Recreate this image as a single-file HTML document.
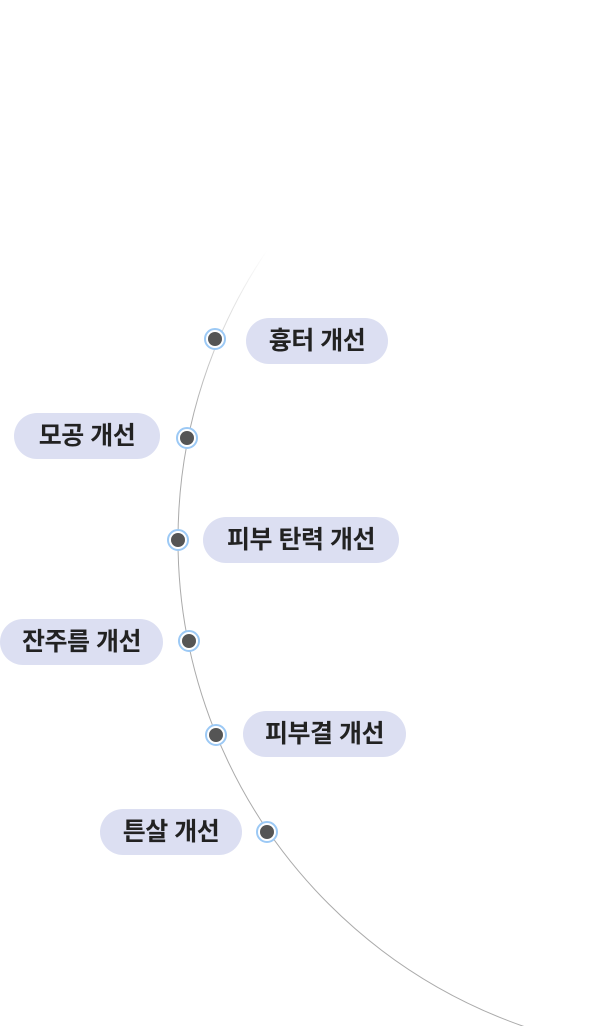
<!DOCTYPE html>
<html><head><meta charset="utf-8"><style>
html,body{margin:0;padding:0;background:#fff;}
body{width:613px;height:1026px;position:relative;overflow:hidden;font-family:"Liberation Sans","Noto Sans CJK KR",sans-serif;}
.p{position:absolute;height:46px;line-height:46px;border-radius:23px;background:#dcdff2;color:#222;font-size:25px;font-weight:700;text-align:center;letter-spacing:-0.5px;white-space:nowrap;}
.d{position:absolute;width:22px;height:22px;border-radius:50%;background:#fff;border:2px solid #9cc9f5;box-sizing:border-box;}
.d::after{content:"";position:absolute;left:2px;top:2px;width:14px;height:14px;border-radius:50%;background:#555;}
</style></head><body>
<svg width="613" height="1026" style="position:absolute;left:0;top:0">
<defs><linearGradient id="g" x1="0" y1="250" x2="0" y2="420" gradientUnits="userSpaceOnUse">
<stop offset="0" stop-color="#aaa" stop-opacity="0"/><stop offset="1" stop-color="#aaa" stop-opacity="1"/></linearGradient></defs>
<circle cx="693" cy="540" r="515" fill="none" stroke="url(#g)" stroke-width="1"/>
</svg>
<div class="p" style="left:246px;top:318px;width:142px">흉터 개선</div>
<div class="p" style="left:14px;top:413px;width:146px">모공 개선</div>
<div class="p" style="left:203px;top:517px;width:196px">피부 탄력 개선</div>
<div class="p" style="left:0px;top:619px;width:163px">잔주름 개선</div>
<div class="p" style="left:243px;top:711px;width:163px">피부결 개선</div>
<div class="p" style="left:100px;top:809px;width:142px">튼살 개선</div>
<div class="d" style="left:204px;top:328px"></div>
<div class="d" style="left:176px;top:427px"></div>
<div class="d" style="left:167px;top:529px"></div>
<div class="d" style="left:178px;top:630px"></div>
<div class="d" style="left:205px;top:724px"></div>
<div class="d" style="left:256px;top:821px"></div>
</body></html>
